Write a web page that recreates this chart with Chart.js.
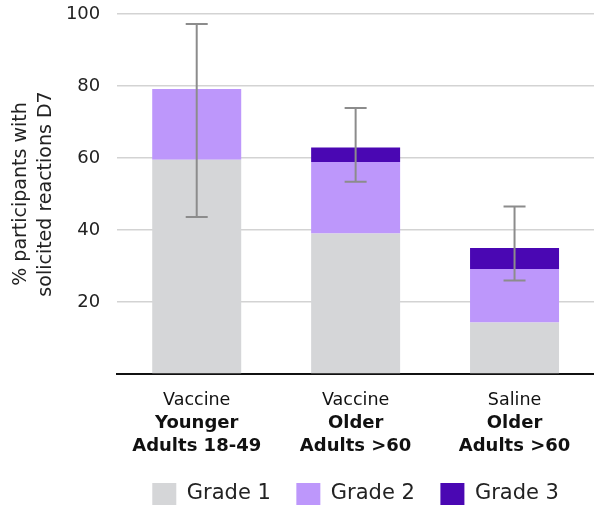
<!DOCTYPE html>
<html>
<head>
<meta charset="utf-8">
<script src="https://cdn.jsdelivr.net/npm/chart.js@4/dist/chart.umd.min.js"></script>
<style>
  body { margin: 0; background: #fff; }
  #wrap { width: 594px; height: 505px; }
</style>
</head>
<body>
<div id="wrap"><canvas id="myChart"></canvas></div>
<script>
// categories (two label rows: regular first line, bold second part)
const groupLabels = ['Vaccine', 'Vaccine', 'Saline'];
const cohortLabels = [['Younger', 'Adults 18-49'], ['Older', 'Adults >60'], ['Older', 'Adults >60']];

// stacked segments, % participants
const grade1 = [59.5, 39.0, 14.3];
const grade2 = [19.7, 19.9, 14.9];
const grade3 = [0, 4.0, 5.8];

// error bar ends
const errLow = [43.6, 53.4, 26.0];
const errHigh = [97.2, 73.9, 46.5];

const yTicks = [20, 40, 60, 80, 100];

// draws the whiskers on top of the bars
const errorBars = {
    id: 'errorBars',
    afterDatasetsDraw(chart) {
        const ctx = chart.ctx;
        const x = chart.scales.x;
        const y = chart.scales.y;
        ctx.save();
        ctx.strokeStyle = '#8c8c8c';
        ctx.lineWidth = 2;
        for (let i = 0; i < errLow.length; i++) {
            let cx = x.getPixelForValue(i);
            let top = y.getPixelForValue(errHigh[i]);
            let bot = y.getPixelForValue(errLow[i]);
            ctx.beginPath();
            ctx.moveTo(cx, top); ctx.lineTo(cx, bot);
            ctx.moveTo(cx - 11, top); ctx.lineTo(cx + 11, top);
            ctx.moveTo(cx - 11, bot); ctx.lineTo(cx + 11, bot);
            ctx.stroke();
        }
        ctx.restore();
    }
};

function chart() {
    const ctx = document.getElementById('myChart').getContext('2d');

    const data = {
        labels: groupLabels,
        datasets: [
            { label: 'Grade 1', data: grade1, backgroundColor: '#d5d6d8' },
            { label: 'Grade 2', data: grade2, backgroundColor: '#bd97fb' },
            { label: 'Grade 3', data: grade3, backgroundColor: '#4a07b3' }
        ]
    };

    const config = {
        type: 'bar',
        data: data,
        plugins: [errorBars],
        options: {
            responsive: true,
            maintainAspectRatio: false,
            animation: false,
            datasets: {
                bar: { barPercentage: 0.56, categoryPercentage: 1, borderWidth: 0 }
            },
            layout: { padding: { top: 14, left: 9, right: 0, bottom: -10 } },
            scales: {
                x: {
                    stacked: true,
                    // tickLength used as spacing (ticks.padding is counted twice)
                    grid: { display: false, drawTicks: true, tickLength: 16 },
                    border: { display: true, color: '#111', width: 2 },
                    ticks: {
                        padding: 0,
                        color: '#111',
                        maxRotation: 0,
                        font: { family: 'DejaVu Sans', size: 17.5, lineHeight: 1.2 }
                    }
                },
                x2: {
                    type: 'category',
                    labels: cohortLabels,
                    position: 'bottom',
                    weight: 1,
                    grid: { display: false, drawTicks: true, tickLength: 1.5 },
                    border: { display: false },
                    ticks: {
                        padding: 0,
                        color: '#111',
                        maxRotation: 0,
                        font: { family: 'DejaVu Sans', size: 18, weight: 'bold', lineHeight: 1.25 }
                    }
                },
                y: {
                    stacked: true,
                    min: 0,
                    max: 100,
                    afterBuildTicks(axis) {
                        axis.ticks = [0, ...yTicks].map(v => ({ value: v }));
                    },
                    grid: { color: '#d3d3d3', lineWidth: 1.5, drawTicks: true, tickLength: 17, tickColor: 'rgba(0,0,0,0)' },
                    border: { display: false },
                    ticks: {
                        padding: 0,
                        color: '#222',
                        font: { family: 'DejaVu Sans', size: 18 },
                        callback: v => v === 0 ? '' : v
                    },
                    title: {
                        display: true,
                        text: ['% participants with', 'solicited reactions D7'],
                        color: '#222',
                        font: { family: 'DejaVu Sans', size: 19, lineHeight: 1.3 },
                        padding: { top: 0, bottom: 7.5 }
                    }
                }
            },
            plugins: {
                legend: {
                    position: 'bottom',
                    fullSize: false,
                    labels: {
                        boxWidth: 24,
                        boxHeight: 22,
                        padding: 25.5,
                        color: '#222',
                        font: { family: 'DejaVu Sans', size: 21 }
                    }
                },
                tooltip: { enabled: false }
            }
        }
    };

    return new Chart(ctx, config);
}

chart();
</script>
</body>
</html>
